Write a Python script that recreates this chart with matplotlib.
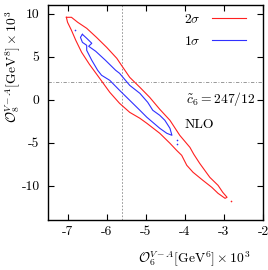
import matplotlib
matplotlib.use("Agg")
import matplotlib.pyplot as plt

plt.rcParams['font.family'] = ['cmr10', 'DejaVu Serif']
plt.rcParams['mathtext.fontset'] = 'cm'
plt.rcParams['axes.unicode_minus'] = False
plt.rcParams['axes.formatter.use_mathtext'] = False

# 2 sigma contour (O6 x 1e3, O8 x 1e3)
red_x = [-7.03, -6.90, -6.74, -6.51, -6.26, -6.00, -5.74, -5.62, -5.41, -5.15, -4.90,
         -4.64, -4.38, -4.13, -3.87, -3.77, -3.62, -3.36, -3.15, -3.03, -2.92,
         -2.97, -3.15, -3.31, -3.54, -3.79, -3.95, -4.08, -4.21, -4.38, -4.64, -4.97,
         -5.15, -5.41, -5.67, -5.92, -6.18, -6.44, -6.64, -6.79, -6.90, -7.00, -7.03]
red_y = [9.57, 9.57, 8.99, 8.29, 7.24, 6.08, 4.80, 3.99, 2.59, 1.43, 0.27,
         -1.13, -2.41, -4.15, -5.55, -6.36, -7.41, -9.04, -9.97, -10.78, -11.36,
         -11.48, -10.90, -10.20, -9.38, -8.45, -7.64, -6.48, -5.90, -5.08, -3.92, -2.76,
         -2.17, -1.48, -0.43, 0.85, 2.48, 4.10, 5.50, 6.90, 8.06, 8.99, 9.57]
red_dot_x = [-2.82]
red_dot_y = [-11.79]

# 1 sigma contour
blue_x = [-6.62, -6.51, -6.38, -6.46, -6.28, -6.03, -5.77, -5.67, -5.41, -5.15, -4.95,
          -4.82, -4.64, -4.51, -4.38, -4.33, -4.46, -4.64, -4.82, -4.97, -5.15, -5.41,
          -5.67, -5.92, -6.13, -6.23, -6.38, -6.51, -6.51, -6.62, -6.67, -6.62]
blue_y = [7.59, 7.13, 6.55, 6.20, 5.62, 4.57, 3.41, 3.06, 1.66, 0.73, -0.31,
          -1.24, -1.83, -2.41, -3.34, -4.15, -3.92, -3.34, -2.64, -2.06, -1.24, -0.08,
          1.08, 2.24, 2.83, 3.41, 4.57, 5.73, 6.31, 6.66, 7.24, 7.59]
blue_dot_x = [-6.80, -4.21, -4.21]
blue_dot_y = [8.06, -4.73, -5.20]

ref_x = -5.6
ref_y = 2.0

xticks = [-7, -6, -5, -4, -3, -2]
yticks = [-10, -5, 0, 5, 10]

FS = 9.8

fig = plt.figure(figsize=(2.68, 2.70), dpi=100)
ax = fig.add_axes([48/268, 1-220/270, 215/268, 215/270])

ax.axvline(ref_x, color='#888888', lw=0.6, ls=(0, (2, 2)))
ax.axhline(ref_y, color='#888888', lw=0.6, ls=(0, (4, 2, 1, 2)))

ax.plot(red_x, red_y, color='#ff2020', lw=0.8, label=r'$2\sigma$')
ax.plot(red_dot_x, red_dot_y, 'o', color='#ff2020', ms=1.2, mew=0)
ax.plot(blue_x, blue_y, color='#3030ff', lw=0.8, label=r'$1\sigma$')
ax.plot(blue_dot_x, blue_dot_y, 'o', color='#3030ff', ms=1.2, mew=0)

ax.set_xlim(-7.5, -2)
ax.set_ylim(-14, 11)
ax.set_xticks(xticks)
ax.set_yticks(yticks)
ax.set_xticklabels([str(v) for v in xticks])
ax.set_yticklabels([str(v) for v in yticks])
ax.tick_params(direction='in', top=True, right=True, length=4, width=0.8,
               labelsize=FS)
ax.tick_params(axis='x', pad=4)
ax.tick_params(axis='y', pad=6)
for s in ax.spines.values():
    s.set_linewidth(1.0)

ax.set_xlabel(r'$\mathcal{O}_6^{V-A}[\mathrm{GeV}^6]\times10^3$', fontsize=FS)
ax.xaxis.set_label_coords(0.68, -0.14)
ax.set_ylabel(r'$\mathcal{O}_8^{V-A}[\mathrm{GeV}^8]\times10^3$', fontsize=FS)
ax.yaxis.set_label_coords(-0.115, 0.71)

h, l = ax.get_legend_handles_labels()
ax.legend(h, l, loc='upper right', frameon=False, markerfirst=False,
          fontsize=FS, handlelength=2.5, labelspacing=0.7, borderaxespad=0,
          bbox_to_anchor=(0.946, 0.99))

ax.text(0.963, 0.563, r'$\tilde{c}_6=247/12$', transform=ax.transAxes,
        ha='right', va='center', fontsize=FS)
ax.text(0.637, 0.442, 'NLO', transform=ax.transAxes, ha='left', va='center',
        fontsize=FS)

fig.savefig('out.png', dpi=100)
